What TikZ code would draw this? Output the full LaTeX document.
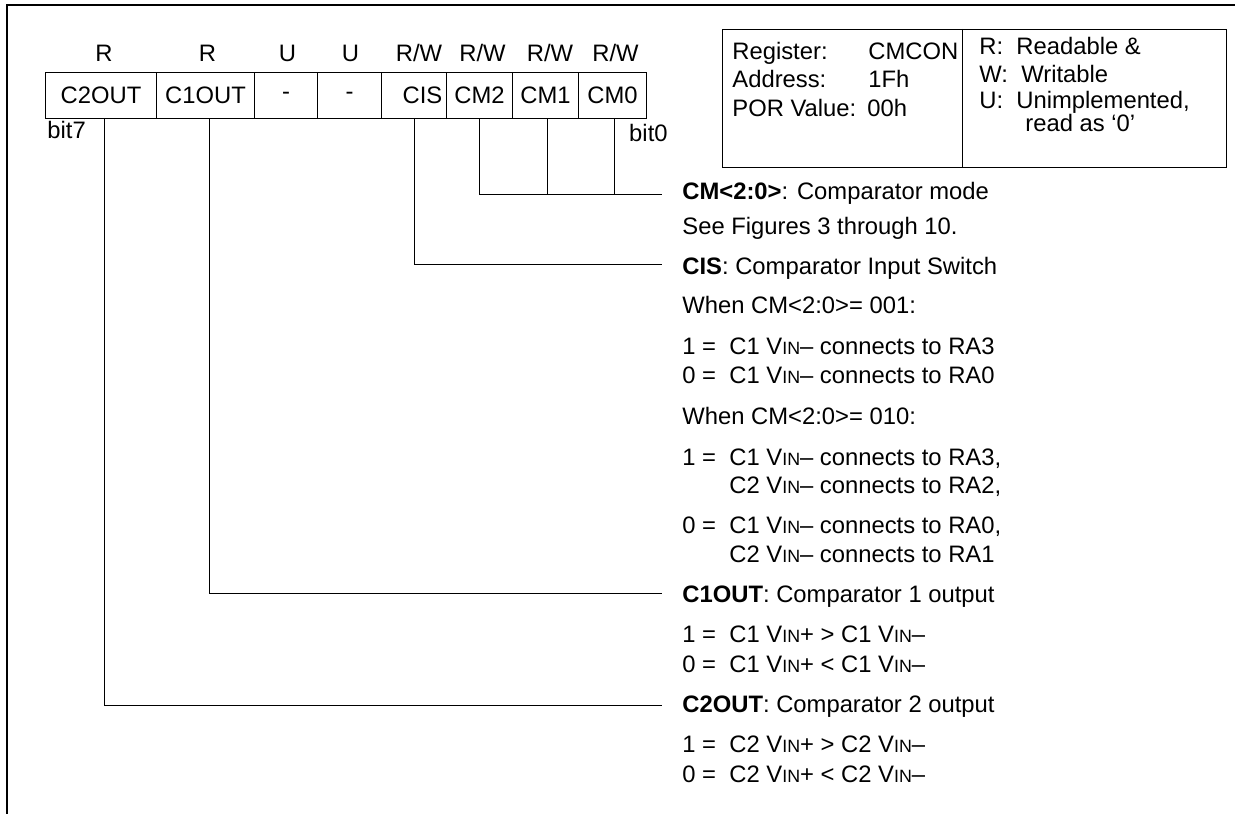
\documentclass[tikz,border=0pt]{standalone}
\usepackage{fontspec}
\setmainfont{Liberation Sans}
\newcommand{\vin}{V{\fontsize{8.9}{10}\selectfont IN}}
\newcommand{\eqv}[1]{\makebox[23.5pt][l]{#1 =}}
\begin{document}
\begin{tikzpicture}[x=0.5pt,y=-0.5pt,
  every node/.style={font=\fontsize{11.9}{14}\selectfont},
  txt/.style={inner sep=0pt, anchor=base west},
  ctr/.style={inner sep=0pt, anchor=base},
  cell/.style={draw, line width=0.5pt, inner sep=0pt, minimum height=23pt, anchor=north west},
  wire/.style={line width=0.5pt},
  frame/.style={line width=1.3pt}]
\useasboundingbox (0,0) rectangle (1235,813);
% outer frame
\coordinate (fb) at (7,815);
\coordinate (fc) at (7,5);
\coordinate (fr) at (1237,5);
\draw[frame] (fb) -- (fc) -- (fr);

% access labels
\node[ctr] (a7) at (104,62) {R};
\node[ctr] (a6) at (207.5,62) {R};
\node[ctr] (a5) at (287.5,62) {U};
\node[ctr] (a4) at (350.5,62) {U};
\node[ctr] (a3) at (419,62) {R/W};
\node[ctr] (a2) at (482.5,62) {R/W};
\node[ctr] (a1) at (550,62) {R/W};
\node[ctr] (a0) at (615.5,62) {R/W};

% register cells
\node[cell, minimum width=55.5pt] (c7) at (45,72) {C2OUT};
\node[cell, minimum width=49pt] (c6) at (156,72) {C1OUT};
\node[cell, minimum width=31.5pt] (c5) at (254,72) {-};
\node[cell, minimum width=32pt] (c4) at (317,72) {-};
\node[cell, minimum width=32.5pt] (c3) at (381,72) {\hspace*{8.5pt}CIS};
\node[cell, minimum width=33pt] (c2) at (446,72) {CM2};
\node[cell, minimum width=33pt] (c1) at (512,72) {CM1};
\node[cell, minimum width=34pt] (c0) at (578,72) {CM0};

\node[txt] (b7) at (47,138) {bit7};
\node[inner sep=0pt, anchor=base east] (b0) at (668,141) {bit0};

% connector ends
\coordinate (ecm) at (662,194);
\coordinate (ecis) at (662,264);
\coordinate (ec1) at (662,593);
\coordinate (ec2) at (662,705);

\draw[wire] (c2.south) |- (ecm);
\draw[wire] ([xshift=1pt]c1.south) -- ([xshift=1pt]c1.south |- ecm);
\draw[wire] ([xshift=0.85pt]c0.south) -- ([xshift=0.85pt]c0.south |- ecm);
\draw[wire] (c3.south) |- (ecis);
\draw[wire] ([xshift=2pt]c6.south) |- (ec1);
\draw[wire] ([xshift=1.75pt]c7.south) |- (ec2);

% info box
\node[draw, line width=0.5pt, inner sep=0pt, minimum width=252pt, minimum height=69pt, anchor=north west] (box) at (722,29) {};
\coordinate (dv) at (962,29);
\draw[wire] (dv) -- (dv |- box.south);
\node[txt] (r1) at (732,60) {Register:};
\node[txt] (r1v) at (868,60) {CMCON};
\node[txt] (r2) at (732,88) {Address:};
\node[txt] (r2v) at (868,88) {1Fh};
\node[txt] (r3) at (732,117) {POR Value:};
\node[txt] (r3v) at (867,117) {00h};
\node[txt] (k1) at (979,55) {R:\ \ Readable \&};
\node[txt] (k2) at (979,83) {W:\ \ Writable};
\node[txt] (k3) at (979,108) {U:\ \ Unimplemented,};
\node[txt] (k4) at (1025,131) {read as ‘0’};

% descriptions
\node[txt] (d1) at (682,199) {\textbf{CM<2:0>}: Comparator mode};
\node[txt] (d2) at (682,234) {See Figures 3 through 10.};
\node[txt] (d3) at (682,274) {\textbf{CIS}: Comparator Input Switch};
\node[txt] (d4) at (682,313) {When CM<2:0>= 001:};
\node[txt] (d5) at (682,354) {\eqv{1}C1 \vin– connects to RA3};
\node[txt] (d6) at (682,383) {\eqv{0}C1 \vin– connects to RA0};
\node[txt] (d7) at (682,424) {When CM<2:0>= 010:};
\node[txt] (d8) at (682,465) {\eqv{1}C1 \vin– connects to RA3,};
\node[txt] (d9) at (729,493) {C2 \vin– connects to RA2,};
\node[txt] (d10) at (682,533) {\eqv{0}C1 \vin– connects to RA0,};
\node[txt] (d11) at (729,562) {C2 \vin– connects to RA1};
\node[txt] (d12) at (682,602) {\textbf{C1OUT}: Comparator 1 output};
\node[txt] (d13) at (682,642) {\eqv{1}C1 \vin+ > C1 \vin–};
\node[txt] (d14) at (682,672) {\eqv{0}C1 \vin+ < C1 \vin–};
\node[txt] (d15) at (682,712) {\textbf{C2OUT}: Comparator 2 output};
\node[txt] (d16) at (682,752) {\eqv{1}C2 \vin+ > C2 \vin–};
\node[txt] (d17) at (682,782) {\eqv{0}C2 \vin+ < C2 \vin–};
\end{tikzpicture}
\end{document}
